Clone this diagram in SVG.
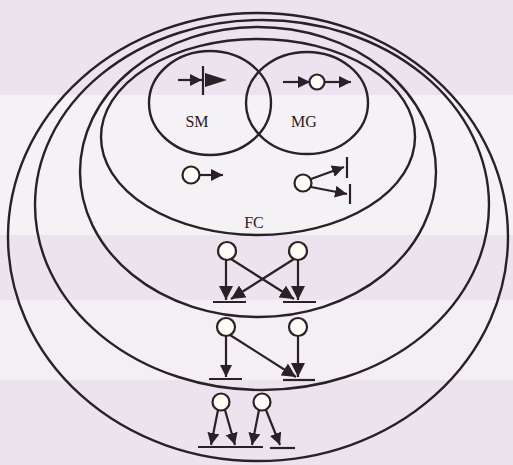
<svg xmlns="http://www.w3.org/2000/svg" width="513" height="465" viewBox="0 0 513 465">
<style>
.ring{fill:none;stroke:#2a2026;stroke-width:2.4}
.ln{fill:none;stroke:#2a2026;stroke-width:2.2}
.dot{fill:#fffdf6;stroke:#2a2026;stroke-width:2.2}
.lbl{font-family:"Liberation Serif",serif;font-size:16px;fill:#2a2026;text-anchor:middle}
.tri{fill:#2a2026}
</style>
<defs>
<marker id="ah" markerUnits="userSpaceOnUse" markerWidth="13" markerHeight="12" refX="12" refY="6" orient="auto">
<path d="M0,0 L12,6 L0,12 z" fill="#2a2026"/>
</marker>
<marker id="ahb" markerUnits="userSpaceOnUse" markerWidth="15" markerHeight="14" refX="14" refY="7" orient="auto">
<path d="M0,0 L14,7 L0,14 z" fill="#2a2026"/>
</marker>
</defs>
<rect width="513" height="465" fill="#ebe4ef"/>
<rect y="95" width="513" height="140" fill="#f5f2f6"/>
<rect y="300" width="513" height="80" fill="#f3eff5"/>

<g id="outer1"><ellipse class="ring" cx="258" cy="237" rx="250" ry="224"/></g>
<g id="outer2"><ellipse class="ring" cx="262" cy="205" rx="227" ry="185"/></g>
<g id="outer3"><ellipse class="ring" cx="258" cy="172" rx="178" ry="145"/></g>
<g id="FC"><ellipse class="ring" cx="258" cy="137" rx="157" ry="98"/><text class="lbl" x="254" y="228">FC</text></g>
<g id="SM"><ellipse class="ring" cx="210" cy="103" rx="61" ry="52"/><text class="lbl" x="197" y="127">SM</text></g>
<g id="MG"><ellipse class="ring" cx="307" cy="103" rx="61" ry="51"/><text class="lbl" x="304" y="127">MG</text></g>

<g id="connectors">
<line class="ln" x1="178" y1="80" x2="202" y2="80" marker-end="url(#ah)"/>
<line class="ln" x1="203" y1="66" x2="203" y2="95"/>
<polygon class="tri" points="205,73 227,80 205,87"/>
<line class="ln" x1="283" y1="82" x2="310" y2="82" marker-end="url(#ah)"/>
<line class="ln" x1="325" y1="82" x2="351" y2="82" marker-end="url(#ah)"/>
<line class="ln" x1="200" y1="175" x2="223" y2="175" marker-end="url(#ah)"/>
<line class="ln" x1="311" y1="179" x2="344" y2="167" marker-end="url(#ah)"/>
<line class="ln" x1="347" y1="157" x2="347" y2="178"/>
<line class="ln" x1="311" y1="187" x2="347" y2="194" marker-end="url(#ah)"/>
<line class="ln" x1="350" y1="184" x2="350" y2="204"/>
<line class="ln" x1="226" y1="260" x2="226" y2="300" marker-end="url(#ahb)"/>
<line class="ln" x1="231" y1="259" x2="294" y2="299" marker-end="url(#ahb)"/>
<line class="ln" x1="298" y1="260" x2="298" y2="300" marker-end="url(#ahb)"/>
<line class="ln" x1="294" y1="259" x2="231" y2="299" marker-end="url(#ahb)"/>
<line class="ln" x1="213" y1="302" x2="246" y2="302"/>
<line class="ln" x1="283" y1="302" x2="316" y2="302"/>
<line class="ln" x1="226" y1="336" x2="226" y2="377" marker-end="url(#ah)"/>
<line class="ln" x1="230" y1="335" x2="296" y2="377" marker-end="url(#ahb)"/>
<line class="ln" x1="298" y1="336" x2="298" y2="377" marker-end="url(#ahb)"/>
<line class="ln" x1="209" y1="379" x2="242" y2="379"/>
<line class="ln" x1="283" y1="380" x2="315" y2="380"/>
<line class="ln" x1="218" y1="410" x2="211" y2="445" marker-end="url(#ah)"/>
<line class="ln" x1="225" y1="410" x2="235" y2="445" marker-end="url(#ah)"/>
<line class="ln" x1="259" y1="410" x2="252" y2="445" marker-end="url(#ah)"/>
<line class="ln" x1="266" y1="410" x2="280" y2="445" marker-end="url(#ah)"/>
<line class="ln" x1="198" y1="447" x2="263" y2="447"/>
<line class="ln" x1="270" y1="448" x2="295" y2="448"/>
</g>

<g id="cells">
<circle class="dot" cx="317" cy="82" r="7.5"/>
<circle class="dot" cx="191" cy="175" r="8.5"/>
<circle class="dot" cx="303" cy="183" r="8.5"/>
<circle class="dot" cx="227" cy="251" r="9"/>
<circle class="dot" cx="298" cy="251" r="9"/>
<circle class="dot" cx="226" cy="327" r="9"/>
<circle class="dot" cx="298" cy="327" r="9"/>
<circle class="dot" cx="221" cy="402" r="8.5"/>
<circle class="dot" cx="262" cy="402" r="8.5"/>
</g>
</svg>
